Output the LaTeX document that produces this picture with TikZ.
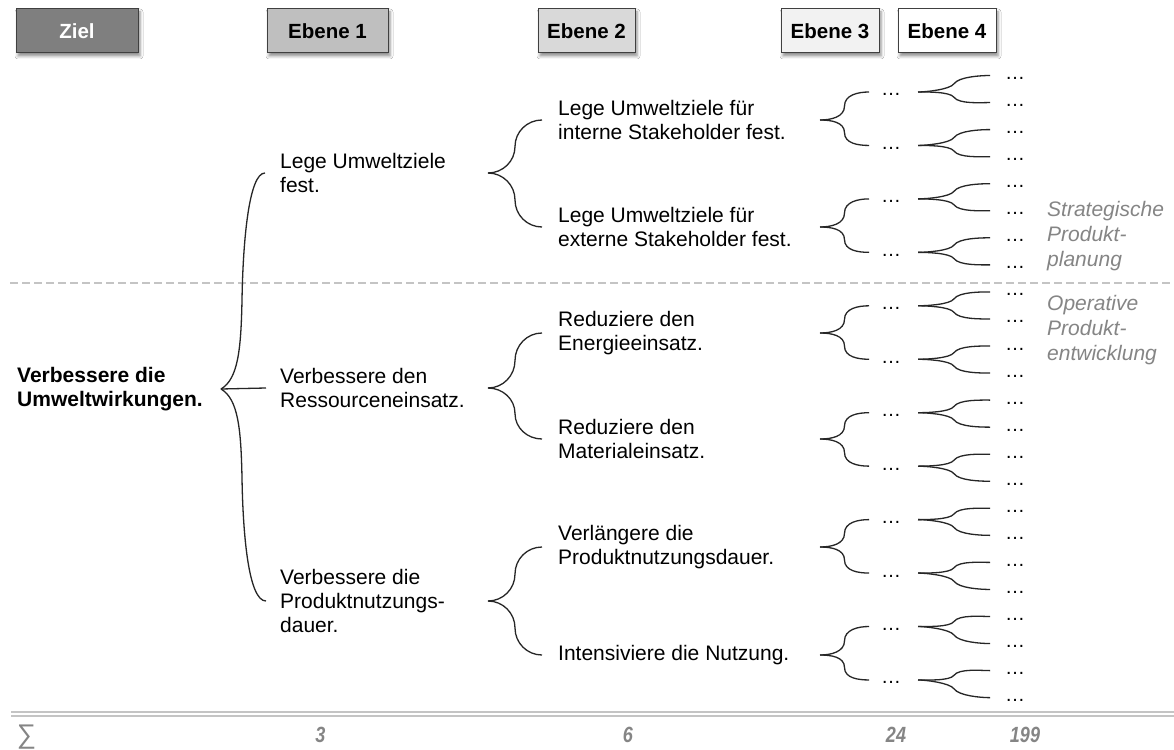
\documentclass[tikz,border=0pt]{standalone}
\usepackage{fontspec}
\setmainfont{Liberation Sans}
\newfontfamily\narrowsans[FakeStretch=0.82]{Liberation Sans}
\usetikzlibrary{calc,shadows.blur}

\definecolor{zielgray}{HTML}{7F7F7F}
\definecolor{eonegray}{HTML}{BFBFBF}
\definecolor{etwogray}{HTML}{D9D9D9}
\definecolor{ethreegray}{HTML}{F2F2F2}
\definecolor{rulegray}{HTML}{C4C4C4}
\definecolor{labelgray}{HTML}{858585}
\definecolor{boxline}{HTML}{404040}
\definecolor{braceblack}{HTML}{262626}

\tikzset{
  hdr/.style={draw=boxline, line width=1pt, minimum height=44pt, inner sep=0pt,
    font=\fontsize{20.5}{24}\selectfont\bfseries,
    blur shadow={shadow xshift=2pt, shadow yshift=-3pt, shadow blur radius=3pt, shadow opacity=45}},
  txt/.style={anchor=west, inner sep=0pt, align=left, font=\fontsize{21}{24}\selectfont},
  rootstyle/.style={txt, font=\fontsize{21}{24}\selectfont\bfseries},
  dotsnode/.style={anchor=west, inner sep=0pt, text height=8pt, text depth=0pt, font=\fontsize{20}{24}\selectfont},
  brace/.style={line width=1.3pt, draw=braceblack},
  side/.style={anchor=west, inner sep=0pt, align=left, text=labelgray, font=\fontsize{21}{25}\selectfont\itshape},
  sumlbl/.style={inner sep=0pt, text=labelgray, font=\fontsize{22}{24}\selectfont\narrowsans\bfseries\itshape},
}

\newcommand{\upperarm}[2]{\draw[brace] (#1) to[out=0,in=270] ($(#1)!0.5!(#2)$) to[out=90,in=180] (#2);}
\newcommand{\lowerarm}[2]{\draw[brace] (#1) to[out=0,in=90] ($(#1)!0.5!(#2)$) to[out=270,in=180] (#2);}
\newcommand{\upsmall}[2]{\draw[brace] (#1) to[out=0,in=235,looseness=0.5] ($(#1)!0.5!(#2)$) to[out=55,in=180,looseness=0.6] (#2);}
\newcommand{\downsmall}[2]{\draw[brace] (#1) to[out=0,in=125,looseness=0.5] ($(#1)!0.5!(#2)$) to[out=305,in=180,looseness=0.6] (#2);}

\begin{document}
\begin{tikzpicture}[x=1pt,y=-1pt]
\fill[white] (0,0) rectangle (1174,749);
\useasboundingbox (0,0) rectangle (1174,749);

% rules
\draw[rulegray, line width=2.5pt, dash pattern=on 8pt off 4pt] (10,283) -- (1174,283);
\draw[rulegray, line width=2pt] (11,711.5) -- (1174,711.5) (11,715.7) -- (1174,715.7);

% headers
\node[hdr, fill=zielgray, text=white, minimum width=122pt] (h0) at (77,31) {Ziel};
\node[hdr, fill=eonegray, minimum width=121pt] (h1) at (327.5,31) {Ebene 1};
\node[hdr, fill=etwogray, minimum width=97pt] (h2) at (586.5,31) {Ebene 2};
\node[hdr, fill=ethreegray, minimum width=98pt] (h3) at (830,31) {Ebene 3};
\node[hdr, fill=white, minimum width=98pt] (h4) at (947,31) {Ebene 4};

% root and level 1
\node[rootstyle] (root) at (17,389) {Verbessere die\\Umweltwirkungen.};
\node[txt] (a1) at (280,173) {Lege Umweltziele\\fest.};
\node[txt] (a2) at (280,388) {Verbessere den\\Ressourceneinsatz.};
\node[txt] (a3) at (280,601) {Verbessere die\\Produktnutzungs-\\dauer.};

% level 2
\node[txt] (b1) at (558,120) {Lege Umweltziele für\\interne Stakeholder fest.};
\node[txt] (b2) at (558,227) {Lege Umweltziele für\\externe Stakeholder fest.};
\node[txt] (b3) at (558,333) {Reduziere den\\Energieeinsatz.};
\node[txt] (b4) at (558,439) {Reduziere den\\Materialeinsatz.};
\node[txt] (b5) at (558,547) {Verlängere die\\Produktnutzungsdauer.};
\node[txt] (b6) at (558,655) {Intensiviere die Nutzung.};

% level 3 and 4
\foreach \j in {1,...,12}{
  \pgfmathsetmacro\yc{92+53.45*(\j-1)}
  \node[dotsnode] (c\j) at (881,\yc) {…};
}
\foreach \k in {1,...,24}{
  \pgfmathsetmacro\yd{75.5+27.05*(\k-1)}
  \node[dotsnode] (d\k) at (1005,\yd) {…};
}

% side labels
\node[side] (s1) at (1047,236) {Strategische\\Produkt-\\planung};
\node[side] (s2) at (1047,330) {Operative\\Produkt-\\entwicklung};

% sums
\node[sumlbl, font=\fontsize{27}{28}\selectfont] (sum0) at (26.5,737) {∑};
\node[sumlbl] (sum1) at (320.5,735) {3};
\node[sumlbl] (sum2) at (628,735) {6};
\node[sumlbl] (sum3) at (896,735) {24};
\node[sumlbl] (sum4) at (1025,735) {199};

% big brace root -> level 1
\coordinate (t0) at ([xshift=204pt]root.west);
\coordinate (ea1) at ([xshift=-15pt]a1.west);
\coordinate (ea2) at ([xshift=-14pt]a2.west);
\coordinate (ea3) at ([xshift=-14pt]a3.west);
\draw[brace] (t0) .. controls (238,379) and (241,350) .. (242,300) .. controls (243,240) and (249,173) .. (ea1);
\draw[brace] (t0) -- (ea2);
\draw[brace] (t0) .. controls (238,399) and (241,428) .. (242,478) .. controls (243,538) and (249,601) .. (ea3);

% connection coordinates
\foreach \p in {1,2,3}{
  \coordinate (ta\p) at ([xshift=208pt]a\p.west);
}
\foreach \i in {1,...,6}{
  \coordinate (eb\i) at ([xshift=-16pt]b\i.west);
  \coordinate (tb\i) at ([xshift=262pt]b\i.west);
}
\foreach \j in {1,...,12}{
  \coordinate (ec\j) at ([xshift=-12pt]c\j.west);
  \coordinate (tc\j) at ([xshift=37pt]c\j.west);
}
\foreach \k in {1,...,24}{
  \coordinate (ed\k) at ([xshift=-15pt]d\k.west);
}

% braces
\foreach \p in {1,2,3}{
  \pgfmathtruncatemacro\ia{2*\p-1}
  \pgfmathtruncatemacro\ib{2*\p}
  \upperarm{ta\p}{eb\ia}
  \lowerarm{ta\p}{eb\ib}
}
\foreach \i in {1,...,6}{
  \pgfmathtruncatemacro\ja{2*\i-1}
  \pgfmathtruncatemacro\jb{2*\i}
  \upperarm{tb\i}{ec\ja}
  \lowerarm{tb\i}{ec\jb}
}
\foreach \j in {1,...,12}{
  \pgfmathtruncatemacro\ka{2*\j-1}
  \pgfmathtruncatemacro\kb{2*\j}
  \upsmall{tc\j}{ed\ka}
  \downsmall{tc\j}{ed\kb}
}
\end{tikzpicture}
\end{document}
